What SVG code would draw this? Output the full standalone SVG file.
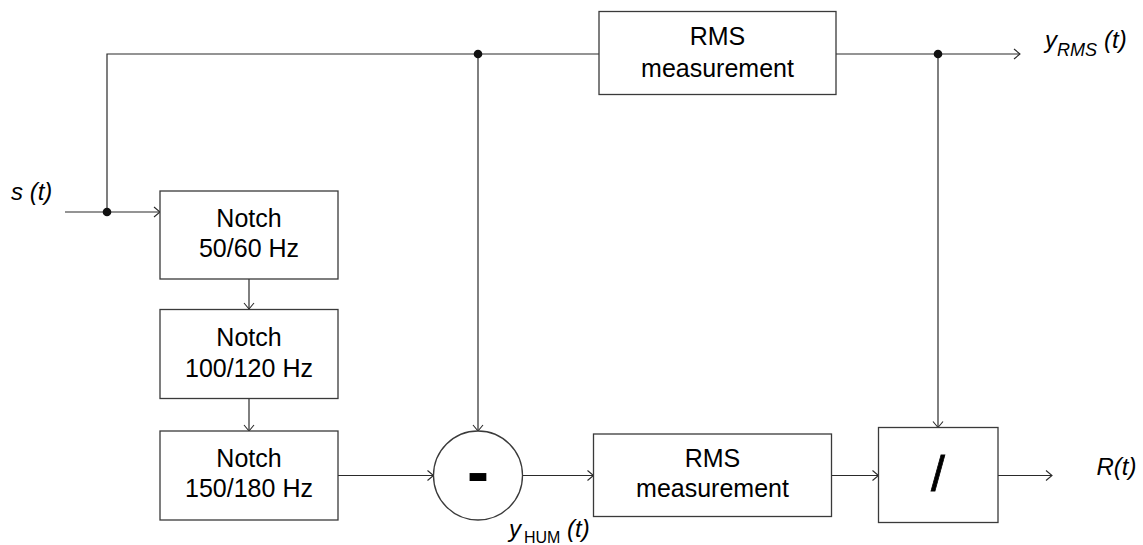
<svg xmlns="http://www.w3.org/2000/svg" width="1143" height="545" viewBox="0 0 1143 545">
<style>
.box{fill:#fff;stroke:#3a3a3a;stroke-width:1.3}
.ln{fill:none;stroke:#2a2a2a;stroke-width:1.2}
.t{font-family:"Liberation Sans",Arial,sans-serif;font-size:25px;fill:#000;text-anchor:middle}
.lb{font-family:"Liberation Sans",Arial,sans-serif;font-size:24px;fill:#000;font-style:italic}
.dot{fill:#111}
</style>
<defs>
<marker id="arr" markerWidth="10" markerHeight="12" refX="7" refY="6" orient="auto" markerUnits="userSpaceOnUse">
<path d="M1,1 L7,6 L1,11" fill="none" stroke="#2a2a2a" stroke-width="1.1"/>
</marker>
</defs>
<rect width="1143" height="545" fill="#fff"/>
<g id="connectors">
<line class="ln" x1="65" y1="212" x2="160" y2="212" marker-end="url(#arr)"/>
<polyline class="ln" points="107,212 107,54 599,54"/>
<line class="ln" x1="478" y1="54" x2="478" y2="431" marker-end="url(#arr)"/>
<line class="ln" x1="249" y1="279" x2="249" y2="309" marker-end="url(#arr)"/>
<line class="ln" x1="249" y1="398" x2="249" y2="431" marker-end="url(#arr)"/>
<line class="ln" x1="338" y1="475.5" x2="433.5" y2="475.5" marker-end="url(#arr)"/>
<line class="ln" x1="522.5" y1="475.5" x2="593.5" y2="475.5" marker-end="url(#arr)"/>
<line class="ln" x1="831.5" y1="475.5" x2="878.5" y2="475.5" marker-end="url(#arr)"/>
<line class="ln" x1="998" y1="475.5" x2="1052" y2="475.5" marker-end="url(#arr)"/>
<line class="ln" x1="836" y1="54" x2="1020" y2="54" marker-end="url(#arr)"/>
<line class="ln" x1="938" y1="54" x2="938" y2="427.5" marker-end="url(#arr)"/>
<circle class="dot" cx="107" cy="212" r="4.3"/>
<circle class="dot" cx="478" cy="54" r="4.3"/>
<circle class="dot" cx="938" cy="54" r="4.3"/>
</g>
<g id="notch1">
<rect class="box" x="160" y="191" width="178" height="88"/>
<text class="t" x="249" y="226.5">Notch</text>
<text class="t" x="249" y="257">50/60 Hz</text>
</g>
<g id="notch2">
<rect class="box" x="160" y="309.5" width="178" height="89"/>
<text class="t" x="249" y="346">Notch</text>
<text class="t" x="249" y="376.5">100/120 Hz</text>
</g>
<g id="notch3">
<rect class="box" x="160" y="431" width="178" height="89"/>
<text class="t" x="249" y="467">Notch</text>
<text class="t" x="249" y="497">150/180 Hz</text>
</g>
<g id="rms1">
<rect class="box" x="599" y="11.5" width="237" height="83"/>
<text class="t" x="717.5" y="45">RMS</text>
<text class="t" x="717.5" y="76.5">measurement</text>
</g>
<g id="subtract">
<circle class="box" cx="478" cy="475.5" r="44.5"/>
<text x="478" y="494" font-family="'Liberation Sans',Arial,sans-serif" font-size="66" font-weight="bold" text-anchor="middle">-</text>
</g>
<g id="rms2">
<rect class="box" x="593.5" y="434" width="238" height="82.5"/>
<text class="t" x="712.5" y="466.5">RMS</text>
<text class="t" x="712.5" y="497">measurement</text>
</g>
<g id="divide">
<rect class="box" x="878.5" y="427.5" width="119.5" height="95"/>
<text x="938" y="491" font-family="'Liberation Sans',Arial,sans-serif" font-size="50" text-anchor="middle" stroke="#000" stroke-width="0.8">/</text>
</g>
<g id="labels">
<text class="lb" x="11" y="200">s (t)</text>
<text class="lb" x="1045" y="48">y<tspan font-size="18" dy="8" x="1057">RMS</tspan><tspan dy="-8" x="1104">(t)</tspan></text>
<text class="lb" x="509" y="537">y<tspan font-style="normal" font-size="16" dy="6" x="524">HUM</tspan><tspan dy="-6" x="567">(t)</tspan></text>
<text class="lb" x="1096.5" y="475">R(t)</text>
</g>
</svg>
